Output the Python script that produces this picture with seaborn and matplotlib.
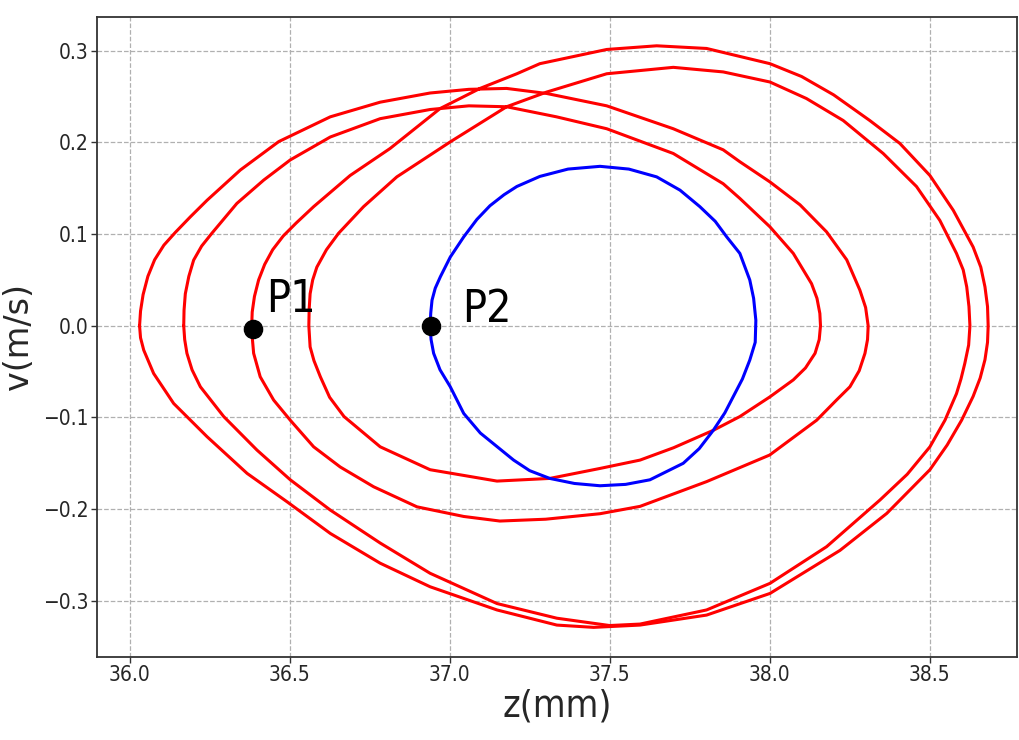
import numpy as np
import pandas as pd
import matplotlib
matplotlib.use("Agg")
import matplotlib.pyplot as plt
import seaborn as sns
from matplotlib import font_manager as fm

# ---- data (z in mm, v in m/s) ----
orbit_a_z = [36.031, 36.034, 36.042, 36.057, 36.078, 36.107, 36.143, 36.190, 36.242, 36.346,
             36.466, 36.627, 36.783, 36.939, 37.060, 37.178, 37.303, 37.491, 37.699, 37.855,
             37.907, 38.001, 38.095, 38.178, 38.241, 38.282, 38.300, 38.308, 38.306, 38.298,
             38.280, 38.251, 38.209, 38.147, 38.000, 37.803, 37.595, 37.470, 37.300, 37.157,
             37.044, 36.898, 36.7625, 36.658, 36.575, 36.502, 36.450, 36.408, 36.3875, 36.381,
             36.383, 36.390, 36.403, 36.422, 36.447, 36.480, 36.520, 36.575, 36.689, 36.814,
             36.970, 37.095, 37.210, 37.282, 37.491, 37.647, 37.803, 38.001, 38.100, 38.200,
             38.313, 38.407, 38.501, 38.574, 38.636, 38.660, 38.673, 38.681, 38.683, 38.681,
             38.673, 38.658, 38.636, 38.600, 38.555, 38.501, 38.366, 38.220, 38.001, 37.803,
             37.595, 37.450, 37.335, 37.148, 36.939, 36.783, 36.627, 36.492, 36.367, 36.242,
             36.1375, 36.075, 36.044, 36.034, 36.031]
orbit_a_v = [0.000, 0.016, 0.034, 0.054, 0.072, 0.088, 0.102, 0.119, 0.137, 0.170,
             0.201, 0.228, 0.244, 0.254, 0.258, 0.259, 0.2535, 0.240, 0.215, 0.192,
             0.179, 0.157, 0.132, 0.1025, 0.072, 0.039, 0.020, 0.000, -0.015, -0.030,
             -0.049, -0.0665, -0.081, -0.103, -0.141, -0.170, -0.197, -0.205, -0.211, -0.213,
             -0.208, -0.1975, -0.1756, -0.154, -0.132, -0.103, -0.081, -0.0556, -0.030, -0.004,
             0.015, 0.032, 0.050, 0.067, 0.083, 0.098, 0.112, 0.130, 0.164, 0.1935,
             0.237, 0.259, 0.275, 0.286, 0.3015, 0.3055, 0.3026, 0.286, 0.272, 0.252,
             0.224, 0.199, 0.164, 0.126, 0.086, 0.064, 0.0425, 0.021, 0.000, -0.018,
             -0.037, -0.057, -0.077, -0.103, -0.130, -0.157, -0.2047, -0.245, -0.292, -0.3156,
             -0.3265, -0.329, -0.3265, -0.310, -0.2847, -0.259, -0.2265, -0.192, -0.161, -0.121,
             -0.0847, -0.052, -0.0265, -0.013, 0.000]

orbit_b_z = [36.169, 36.170, 36.174, 36.185, 36.200, 36.225, 36.257, 36.335, 36.419, 36.502,
             36.627, 36.783, 36.939, 37.060, 37.178, 37.334, 37.491, 37.699, 37.855, 37.907,
             38.001, 38.074, 38.131, 38.148, 38.157, 38.159, 38.155, 38.142, 38.112, 38.074,
             38.001, 37.907, 37.824, 37.700, 37.595, 37.470, 37.313, 37.148, 36.939, 36.783,
             36.670, 36.625, 36.596, 36.576, 36.564, 36.560, 36.561, 36.564, 36.572, 36.585,
             36.615, 36.653, 36.731, 36.835, 37.002, 37.178, 37.303, 37.491, 37.699, 37.855,
             38.001, 38.115, 38.230, 38.355, 38.459, 38.532, 38.584, 38.605, 38.616, 38.623,
             38.626, 38.622, 38.610, 38.598, 38.584, 38.548, 38.501, 38.430, 38.345, 38.178,
             38.001, 37.803, 37.595, 37.500, 37.335, 37.148, 36.939, 36.783, 36.627, 36.502,
             36.398, 36.294, 36.221, 36.195, 36.179, 36.172, 36.169]
orbit_b_v = [0.000, 0.017, 0.035, 0.054, 0.0717, 0.087, 0.101, 0.1335, 0.159, 0.181,
             0.206, 0.226, 0.236, 0.240, 0.239, 0.228, 0.215, 0.188, 0.155, 0.139,
             0.108, 0.079, 0.046, 0.030, 0.0135, 0.000, -0.015, -0.030, -0.046, -0.059,
             -0.0775, -0.099, -0.114, -0.133, -0.1465, -0.1556, -0.1665, -0.1694, -0.157, -0.132,
             -0.099, -0.078, -0.0556, -0.038, -0.023, 0.000, 0.018, 0.035, 0.050, 0.064,
             0.083, 0.101, 0.130, 0.1625, 0.2007, 0.239, 0.255, 0.275, 0.282, 0.277,
             0.266, 0.248, 0.224, 0.188, 0.152, 0.115, 0.079, 0.061, 0.0425, 0.021,
             0.000, -0.021, -0.041, -0.058, -0.074, -0.103, -0.132, -0.162, -0.190, -0.241,
             -0.281, -0.310, -0.3254, -0.327, -0.319, -0.303, -0.270, -0.237, -0.201, -0.168,
             -0.1356, -0.099, -0.0665, -0.048, -0.030, -0.015, 0.000]

circle_z = [36.939, 36.941, 36.945, 36.955, 36.971, 37.002, 37.044, 37.085, 37.126, 37.170,
            37.210, 37.282, 37.370, 37.470, 37.560, 37.647, 37.720, 37.782, 37.830, 37.866,
            37.907, 37.938, 37.950, 37.957, 37.955, 37.938, 37.915, 37.886, 37.860, 37.824,
            37.780, 37.730, 37.626, 37.550, 37.470, 37.390, 37.313, 37.250, 37.200, 37.096,
            37.044, 37.002, 36.970, 36.950, 36.942, 36.939]
circle_v = [0.000, 0.014, 0.028, 0.041, 0.0535, 0.075, 0.097, 0.116, 0.131, 0.143,
            0.152, 0.163, 0.171, 0.174, 0.171, 0.1625, 0.148, 0.130, 0.114, 0.097,
            0.079, 0.050, 0.030, 0.006, -0.018, -0.0374, -0.058, -0.0775, -0.095, -0.114,
            -0.134, -0.150, -0.168, -0.173, -0.1745, -0.172, -0.1665, -0.158, -0.1465, -0.117,
            -0.0956, -0.0665, -0.048, -0.030, -0.015, 0.000]

point_names = ["P1", "P2"]
point_z = [36.384, 36.942]
point_v = [-0.004, 0.000]
label_z = [36.428, 37.038]
label_v = [0.0153, 0.0044]

x_ticks = [36.0, 36.5, 37.0, 37.5, 38.0, 38.5]
y_ticks = [-0.3, -0.2, -0.1, 0.0, 0.1, 0.2, 0.3]

# ---- style ----
sns.set_style("ticks")
plt.rcParams["font.family"] = ["DejaVu Sans"]


def pick_narrow():
    prefs = ["Liberation Sans Narrow", "Noto Sans", "Open Sans", "DejaVu Sans", "Roboto", "Lato"]
    entries = fm.fontManager.ttflist
    for want in prefs:
        for st in ("condensed", "semi-condensed", "extra-condensed"):
            for f in entries:
                if (f.name == want and str(f.stretch) == st and f.style == "normal"
                        and str(f.weight) in ("400", "normal", "regular", "book")):
                    return fm.FontProperties(fname=f.fname)
        if want == "Liberation Sans Narrow":
            for f in entries:
                if f.name == want and f.style == "normal" and str(f.weight) in ("400", "normal", "regular"):
                    return fm.FontProperties(fname=f.fname)
    return fm.FontProperties(family="DejaVu Sans")


narrow_fp = pick_narrow()


def fp(size):
    p = narrow_fp.copy()
    p.set_size(size)
    return p


fig = plt.figure(figsize=(10.19, 7.40), dpi=100)
ax = fig.add_axes([0.0952, 0.1122, 0.9028, 0.8648])

df_a = pd.DataFrame({"z": orbit_a_z, "v": orbit_a_v})
df_b = pd.DataFrame({"z": orbit_b_z, "v": orbit_b_v})
df_c = pd.DataFrame({"z": circle_z, "v": circle_v})

line_kw = dict(sort=False, estimator=None, lw=2.2, ax=ax)
sns.lineplot(data=df_a, x="z", y="v", color="#ff0000", **line_kw)
sns.lineplot(data=df_b, x="z", y="v", color="#ff0000", **line_kw)
sns.lineplot(data=df_c, x="z", y="v", color="#0000ff", **line_kw)
for ln in ax.lines:
    ln.set_solid_joinstyle("round")
sns.scatterplot(x=point_z, y=point_v, color="black", s=170, marker="o", ax=ax, zorder=5,
                edgecolor="black")

for name, lz, lv in zip(point_names, label_z, label_v):
    ax.text(lz, lv, name, fontproperties=fp(32), color="black", ha="left", va="baseline")

ax.set_xlim(35.898, 38.773)
ax.set_ylim(-0.3613, 0.3369)
ax.set_xticks(x_ticks)
ax.set_yticks(y_ticks)
ax.set_xticklabels([f"{t:.1f}" for t in x_ticks], fontproperties=fp(15))
ax.set_yticklabels([f"{t:.1f}".replace("-", "\u2212") for t in y_ticks], fontproperties=fp(15))
ax.tick_params(length=4, width=1, direction="out", pad=2, color="#333333")
ax.grid(True, linestyle="--", color="#b0b0b0", lw=0.9)
for s in ax.spines.values():
    s.set_visible(True)
    s.set_color("#333333")
    s.set_linewidth(1.3)

ax.set_xlabel("z(mm)", fontproperties=fp(27), labelpad=2)
ax.set_ylabel("v(m/s)", fontsize=24, labelpad=6, family="DejaVu Sans")

fig.savefig("out.png", dpi=100)
